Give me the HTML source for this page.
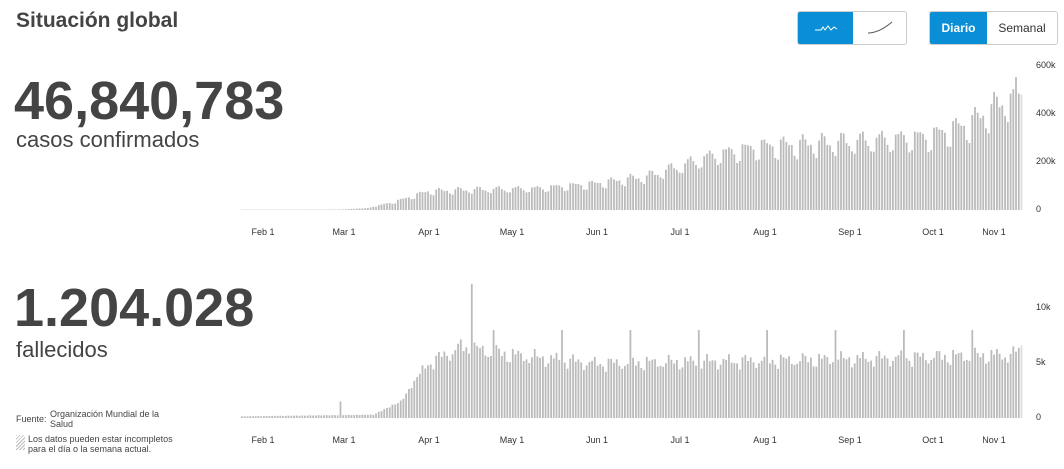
<!DOCTYPE html>
<html><head><meta charset="utf-8"><style>
body{margin:0;width:1064px;height:469px;background:#fff;font-family:"Liberation Sans",sans-serif;color:#444;position:relative;overflow:hidden}
.a{position:absolute;white-space:nowrap}
.btn{position:absolute;border:1px solid #ccc;border-radius:3px;overflow:hidden;display:flex;height:32px}
.btn div{display:flex;align-items:center;justify-content:center;font-size:12px;color:#333}
.on{background:#0a8fd6;color:#fff!important;font-weight:bold}
</style></head><body>
<div class="a" style="left:16px;top:9px;font-size:21px;font-weight:bold">Situación global</div>
<div class="btn" style="left:797px;top:11px;width:108px">
 <div class="on" style="width:55px"><svg width="24" height="10"><path d="M1 7 L7 7 L9 4 L11 7 L14 3 L17 7 L20 4 L23 6" stroke="#fff" fill="none" stroke-width="1"/></svg></div>
 <div style="width:53px"><svg width="26" height="14"><path d="M1 12 Q12 12 25 1" stroke="#555" fill="none" stroke-width="1"/></svg></div>
</div>
<div class="btn" style="left:929px;top:11px;width:127px">
 <div class="on" style="width:57px">Diario</div><div style="width:70px">Semanal</div>
</div>
<div class="a" style="left:14px;top:70px;font-size:54px;font-weight:bold;letter-spacing:0px">46,840,783</div>
<div class="a" style="left:16px;top:127px;font-size:22px">casos confirmados</div>
<div class="a" style="left:14px;top:277px;font-size:54px;font-weight:bold">1.204.028</div>
<div class="a" style="left:16px;top:337px;font-size:22px">fallecidos</div>
<div class="a" style="left:16px;top:414px;font-size:9px;line-height:10px">Fuente:</div>
<div class="a" style="left:50px;top:409px;font-size:9px;line-height:10px">Organización Mundial de la<br>Salud</div>
<div class="a" style="left:16px;top:435px;width:9px;height:15px;background:repeating-linear-gradient(135deg,#bbb 0 1px,#fff 1px 2.5px)"></div>
<div class="a" style="left:28px;top:434px;font-size:9px;line-height:10px">Los datos pueden estar incompletos<br>para el día o la semana actual.</div>
<svg class="a" style="left:0;top:0" width="1064" height="469" id="s"></svg>
<script>
var s=document.getElementById('s'),h='';
function lerp(p,d){for(var i=0;i<p.length-1;i++){if(d<=p[i+1][0]){var t=(d-p[i][0])/(p[i+1][0]-p[i][0]);return p[i][1]+t*(p[i+1][1]-p[i][1]);}}return p[p.length-1][1];}
var wk=[1.05,1.1,1.08,1.0,0.95,0.82,0.8];
var cp=[[-8,1500],[28,2000],[38,8000],[48,35000],[60,78000],[75,85000],[100,90000],[121,110000],[140,140000],[165,230000],[182,265000],[213,285000],[243,305000],[258,360000],[274,480000],[278,520000]];
var dp=[[-8,150],[40,300],[50,1500],[60,5000],[72,6500],[90,5800],[121,5000],[213,5400],[274,5800],[278,6800]];
var tL=['Feb 1','Mar 1','Apr 1','May 1','Jun 1','Jul 1','Aug 1','Sep 1','Oct 1','Nov 1'],tX=[263,344,429,512,597,680,765,850,933,994];
var px=2.735,x0=263;
for(var d=-8;d<=277;d++){var x=x0+d*px,w=wk[(d%7+7)%7];
 var c=lerp(cp,d)*(d>40?w:1)*(1+0.04*Math.sin(d*1.7));
 if(d==275)c=550000;if(d==274)c=500000;
 var dd=lerp(dp,d)*(d>55?(0.7+0.3*w*w):1)*(1+0.06*Math.sin(d*2.3));
 if(d==76)dd=12200;if(d>78&&(d-84)%25==0)dd=8000;if(d==28)dd=1500;
 var col=d==277?'#ddd':'#bbb';
 var hc=c/600000*145;h+='<rect x="'+x.toFixed(1)+'" y="'+(210-hc).toFixed(1)+'" width="1.8" height="'+hc.toFixed(1)+'" fill="'+col+'"/>';
 var hd=dd/10000*110;h+='<rect x="'+x.toFixed(1)+'" y="'+(418-hd).toFixed(1)+'" width="1.8" height="'+hd.toFixed(1)+'" fill="'+col+'"/>';}
for(var i=0;i<tL.length;i++){var x=tX[i];h+='<text x="'+x+'" y="235" font-size="9" text-anchor="middle" fill="#333">'+tL[i]+'</text><text x="'+x+'" y="443" font-size="9" text-anchor="middle" fill="#333">'+tL[i]+'</text>';}
[['600k',68],['400k',116],['200k',164],['0',212],['10k',310],['5k',365],['0',420]].forEach(function(a){h+='<text x="1036" y="'+a[1]+'" font-size="9" fill="#333">'+a[0]+'</text>';});
s.innerHTML=h;
</script>
</body></html>
